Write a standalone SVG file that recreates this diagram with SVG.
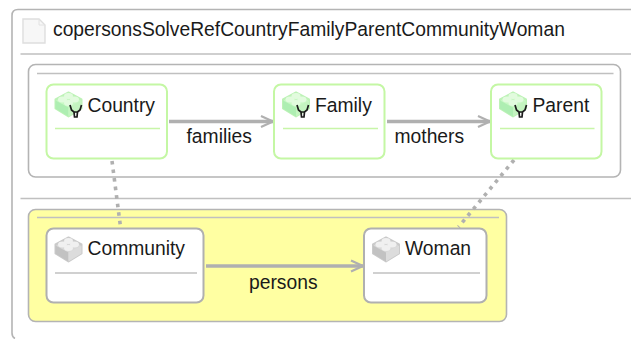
<svg xmlns="http://www.w3.org/2000/svg" width="631" height="339" viewBox="0 0 631 339">
<style>
text{font-family:"Liberation Sans",Arial,sans-serif;font-size:19.3px;fill:#1a1a1a}
.frame{fill:none;stroke:#b4b4b4;stroke-width:1.6}
.sep{stroke:#c0c0c0;stroke-width:1.4;fill:none}
.gsep{stroke:#c8f5a8;stroke-width:1.4;fill:none}
.gnode{fill:#fff;stroke:#c4f7a4;stroke-width:2}
.wnode{fill:#fff;stroke:#b0b0b0;stroke-width:2}
.conn{fill:none;stroke:#b0b0b0;stroke-width:3.4}
.dot{fill:none;stroke:#b0b0b0;stroke-width:3.6;stroke-dasharray:3.6 5}
</style>
<defs>
<marker id="arr" markerUnits="userSpaceOnUse" markerWidth="16" markerHeight="14" refX="13" refY="7" orient="auto">
<path d="M1 1.500L13 7L1 12.500" fill="none" stroke="#b0b0b0" stroke-width="2.200"/>
</marker>
<g id="brickG">
<path d="M1 8L14 1L27 8L27 17L14 25L1 17Z" fill="#c8f8c4" stroke="#bdf2b6" stroke-width="2" stroke-linejoin="round"/>
<path d="M1 9L14 16L14 25L1 17Z" fill="#aeeeb2"/>
<path d="M14 16L27 9L27 17L14 25Z" fill="#c4f4c0"/>
<ellipse cx="8" cy="8" rx="4.500" ry="3" fill="#e2fbde"/><ellipse cx="14" cy="4.500" rx="4.500" ry="3" fill="#e2fbde"/><ellipse cx="20" cy="8" rx="4.500" ry="3" fill="#e2fbde"/><ellipse cx="14" cy="11.500" rx="4.500" ry="3" fill="#e2fbde"/>
</g>
<g id="brickW">
<path d="M1 9L14 2L27 9L27 18L14 26L1 18Z" fill="#d8d8d8" stroke="#cacaca" stroke-width="2" stroke-linejoin="round"/>
<path d="M1 10L14 17L14 26L1 18Z" fill="#c2c2c2"/>
<path d="M14 17L27 10L27 18L14 26Z" fill="#dcdcdc"/>
<ellipse cx="8" cy="9" rx="4.500" ry="3" fill="#f0f0f0"/><ellipse cx="14" cy="5.500" rx="4.500" ry="3" fill="#f0f0f0"/><ellipse cx="20" cy="9" rx="4.500" ry="3" fill="#f0f0f0"/><ellipse cx="14" cy="12.500" rx="4.500" ry="3" fill="#f0f0f0"/>
</g>
<path id="horns" d="M0 0L1.500 5L4 7L4.500 12L7 12L7.500 7L10 5L11.500 0M4 7L7.500 7" fill="none" stroke="#1c1c1c" stroke-width="1.700"/>
</defs>
<path class="frame" d="M631 9.500H18Q12 9.500 12 15.500V333Q12 337 15 338.500"/>
<path class="sep" d="M20.500 54H631M20.500 198.500H631"/>
<g id="doc"><path d="M23 19H39L45 25V43H23Z" fill="#f7f7f7" stroke="#dedede" stroke-width="1.400"/><path d="M39 19V25H45" fill="none" stroke="#e2e2e2"/></g>
<text x="53" y="36">copersonsSolveRefCountryFamilyParentCommunityWoman</text>
<g id="package-top"><rect class="frame" x="28.500" y="64.500" width="592" height="112.500" rx="7"/><path class="sep" d="M37 73.500H613.500"/></g>
<g id="package-bottom"><rect x="28.500" y="209.500" width="478" height="112" rx="7" fill="#ffffa2" stroke="#b4b4b4" stroke-width="1.600"/><path class="sep" d="M37 217.500H499"/></g>
<g id="connectors">
<path class="conn" d="M169 121.500H273" marker-end="url(#arr)"/>
<path class="conn" d="M387 121.500H490" marker-end="url(#arr)"/>
<path class="conn" d="M206 266H363" marker-end="url(#arr)"/>
<path class="dot" d="M112 161L120.800 229"/>
<path class="dot" d="M514 160L458.500 227"/>
<text x="186.500" y="143">families</text>
<text x="394.500" y="143">mothers</text>
<text x="249" y="289">persons</text>
</g>
<g id="node-country"><rect class="gnode" x="46.500" y="84.500" width="120.500" height="74" rx="7"/><path class="gsep" d="M55 128.500H160"/><use href="#brickG" x="54.500" y="91.500"/><use href="#horns" x="70" y="105"/><text x="87.500" y="111.500">Country</text></g>
<g id="node-family"><rect class="gnode" x="274" y="84.500" width="110.500" height="74" rx="7"/><path class="gsep" d="M283 128.500H378"/><use href="#brickG" x="282" y="91.500"/><use href="#horns" x="297" y="105"/><text x="315" y="111.500">Family</text></g>
<g id="node-parent"><rect class="gnode" x="491" y="84.500" width="110.500" height="74" rx="7"/><path class="gsep" d="M500 128.500H594.500"/><use href="#brickG" x="499" y="91.500"/><use href="#horns" x="515" y="105"/><text x="532.500" y="111.500">Parent</text></g>
<g id="node-community"><rect class="wnode" x="46.500" y="228.500" width="157" height="74" rx="7"/><path class="sep" d="M55 273H197"/><use href="#brickW" x="54.500" y="235.500"/><text x="87.500" y="255">Community</text></g>
<g id="node-woman"><rect class="wnode" x="364" y="228.500" width="122.500" height="74" rx="7"/><path class="sep" d="M373 273H480"/><use href="#brickW" x="372" y="235.500"/><text x="405" y="255">Woman</text></g>
</svg>
